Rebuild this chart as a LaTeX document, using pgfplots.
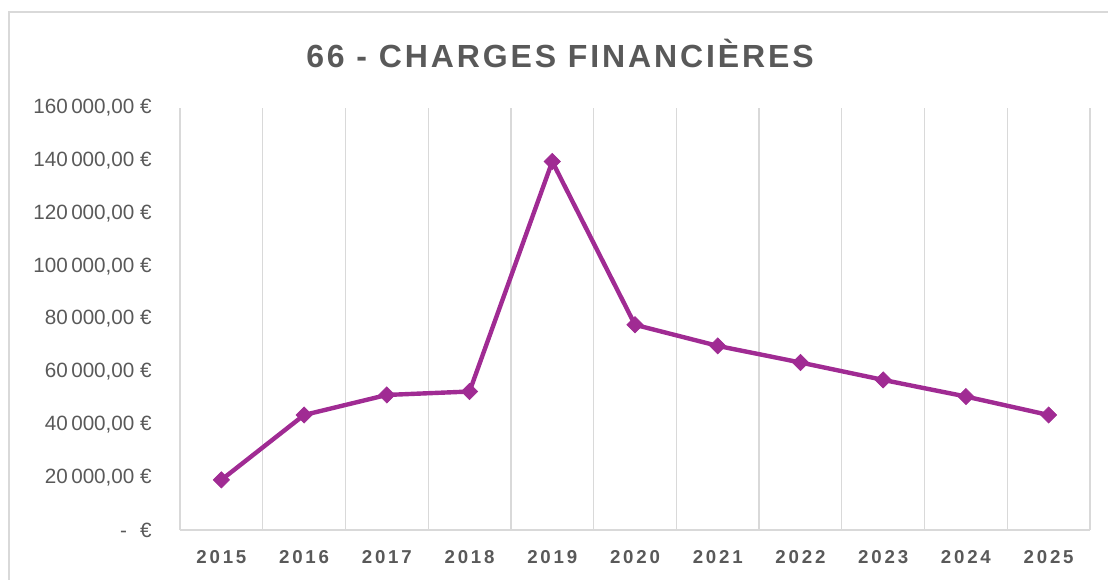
\documentclass[border=0pt]{standalone}
\usepackage{pgfplots}
\pgfplotsset{compat=1.18}
\usepackage{fontspec}
\setmainfont{Liberation Sans}
\newfontfamily\titlefont[LetterSpace=9]{Liberation Sans}
\newfontfamily\yearfont[LetterSpace=15]{Liberation Sans}
\definecolor{linepurple}{HTML}{A02B93}
\definecolor{txtgray}{HTML}{595959}
\definecolor{gridgray}{HTML}{D9D9D9}

\begin{document}
\begin{tikzpicture}
% 1 px of the reference = 0.75pt; axis origin at pixel (180,530)
\useasboundingbox (-135pt,-37.5pt) rectangle (696pt,397.5pt);
\draw[gridgray, line width=1pt] (-128.25pt,-37.5pt) -- (-128.25pt,388.5pt) -- (696pt,388.5pt);
\begin{axis}[
    at={(0pt,0pt)}, anchor=south west,
    scale only axis,
    width=682.5pt, height=316.5pt,
    xmin=-0.5, xmax=10.5,
    ymin=0, ymax=160000,
    xtick={0,...,10},
    xticklabels={2015,2016,2017,2018,2019,2020,2021,2022,2023,2024,2025},
    minor xtick={0.5,1.5,...,10.5},
    xminorgrids=true,
    minor grid style={gridgray, line width=1pt},
    scaled y ticks=false,
    ytick={0,20000,40000,60000,80000,100000,120000,140000,160000},
    yticklabels={{-\hspace{10pt}€},{20\,000,00 €},{40\,000,00 €},{60\,000,00 €},{80\,000,00 €},{100\,000,00 €},{120\,000,00 €},{140\,000,00 €},{160\,000,00 €}},
    major tick length=0pt,
    minor tick length=0pt,
    axis x line*=bottom,
    axis y line*=left,
    axis line style={gridgray, line width=1pt, -},
    yticklabel style={font=\fontsize{15.5}{17}\selectfont, text=txtgray, inner sep=0pt, anchor=east, xshift=-21pt},
    xticklabel style={font=\yearfont\bfseries\fontsize{14}{16}\selectfont, text=txtgray, inner sep=0pt, anchor=north, yshift=-15.5pt},
    clip=false,
]
\addplot[color=linepurple, line width=3.3pt, mark=square*, mark size=4.3pt,
    mark options={fill=linepurple, line width=0.5pt, rotate=45}]
coordinates {
    (0,19000)
    (1,43600)
    (2,51200)
    (3,52500)
    (4,139700)
    (5,77800)
    (6,69800)
    (7,63500)
    (8,56900)
    (9,50600)
    (10,43600)
};
\end{axis}
\node[anchor=base, text=txtgray, font=\titlefont\bfseries\fontsize{24}{28}\selectfont] at (285pt,346.5pt) {66 - CHARGES FINANCIÈRES};
\end{tikzpicture}
\end{document}
